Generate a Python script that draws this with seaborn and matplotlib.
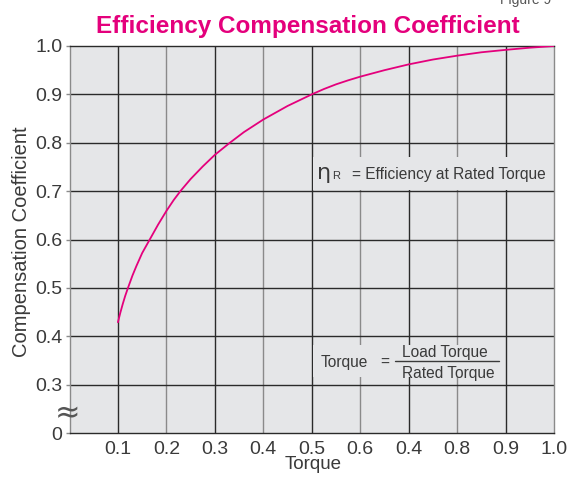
import matplotlib
matplotlib.use("Agg")
import matplotlib.pyplot as plt
import seaborn as sns
import pandas as pd
from matplotlib import font_manager
from matplotlib.patches import Rectangle
from matplotlib.lines import Line2D

# ---- data ----
torque = [0.100, 0.105, 0.110, 0.115, 0.1207, 0.130, 0.138, 0.150, 0.1662, 0.183,
          0.200, 0.215, 0.2297, 0.250, 0.275, 0.300, 0.331, 0.360, 0.400, 0.425,
          0.450, 0.475, 0.500, 0.525, 0.550, 0.575, 0.600, 0.650, 0.700, 0.750,
          0.800, 0.850, 0.900, 0.950, 1.000]
coef = [0.429, 0.449, 0.467, 0.4835, 0.500, 0.5256, 0.545, 0.572, 0.601, 0.631,
        0.659, 0.6815, 0.701, 0.725, 0.751, 0.775, 0.800, 0.822, 0.848, 0.862,
        0.876, 0.888, 0.900, 0.911, 0.9207, 0.929, 0.9366, 0.950, 0.962, 0.972,
        0.980, 0.987, 0.992, 0.9965, 1.000]
x_ticks = [0.1, 0.2, 0.3, 0.4, 0.5, 0.6, 0.7, 0.8, 0.9, 1.0]
x_tick_labels = ["0.1", "0.2", "0.3", "0.4", "0.5", "0.6", "0.4", "0.8", "0.9", "1.0"]
y_ticks = [0.2, 0.3, 0.4, 0.5, 0.6, 0.7, 0.8, 0.9, 1.0]
y_tick_labels = ["0", "0.3", "0.4", "0.5", "0.6", "0.7", "0.8", "0.9", "1.0"]

sns.set_style("white")
names = {f.name for f in font_manager.fontManager.ttflist}
base = "Liberation Sans" if "Liberation Sans" in names else "DejaVu Sans"
narrow = "Liberation Sans Narrow" if "Liberation Sans Narrow" in names else base
narrow_scale = 1.0 if narrow != base else 0.83
plt.rcParams["font.family"] = [base, "DejaVu Sans"]

MAGENTA = "#e4007c"
BG = "#e5e6e8"
DARK = "#2a2a2a"
GRAY = "#8a8a8a"
TXT = "#3a3a3a"

fig = plt.figure(figsize=(5.71, 4.79), dpi=100)
W, H = 571, 479
L, R, T, B = 69.5, 554, 46, 433
ax = fig.add_axes([L / W, 1 - B / H, (R - L) / W, (B - T) / H])
ax.set_facecolor(BG)

df = pd.DataFrame({"Torque": torque, "Coefficient": coef})
sns.lineplot(data=df, x="Torque", y="Coefficient", ax=ax, color=MAGENTA,
             linewidth=1.3, zorder=5)

ax.set_xlim(0, 1.0)
ax.set_ylim(0.2, 1.0)

# grid lines
for i, xv in enumerate(x_ticks[:-1]):
    ax.axvline(xv, color=DARK if i % 2 == 0 else GRAY, lw=1.0, zorder=1)
for yv in y_ticks[1:-1]:
    ax.axhline(yv, color=DARK, lw=1.0, zorder=1)

for s in ["left", "right"]:
    ax.spines[s].set_color(GRAY)
for s in ["top", "bottom"]:
    ax.spines[s].set_color(DARK)
for s in ax.spines.values():
    s.set_linewidth(1.0)

ax.set_xticks(x_ticks)
ax.set_xticklabels(x_tick_labels)
ax.set_yticks(y_ticks)
ax.set_yticklabels(y_tick_labels)
ax.tick_params(axis="x", length=0, pad=5.5, labelsize=14, labelcolor=TXT)
ax.tick_params(axis="y", length=3, width=1, color=GRAY, pad=2, labelsize=14,
               labelcolor=TXT, left=True)
ax.set_xlabel("")
ax.set_ylabel("")

# axis break mark
ax.text(-0.004, 0.241, "\u2248", transform=ax.get_yaxis_transform(), ha="center",
        va="center", fontsize=22, color="#555555", family="DejaVu Sans", zorder=6,
        clip_on=False)

# axis labels
fig.text(312.7 / W, 1 - 469 / H, "Torque", ha="center", va="baseline",
         fontsize=13.5, color=TXT)
fig.text(22 / W, 1 - 242 / H, "Compensation Coefficient", ha="center", va="center",
         rotation=90, fontsize=14.5, color=TXT)

# title and figure number
fig.text(307.5 / W, 1 - 33 / H, "Efficiency Compensation Coefficient", ha="center",
         va="baseline", fontsize=17.5, fontweight="bold", color=MAGENTA)
fig.text(551 / W, 1 - 4 / H, "Figure 9", ha="right", va="baseline", fontsize=10,
         color="#555555")

def fx(px):
    return (px - L) / (R - L)

def fy(py):
    return (B - py) / (B - T)

# annotation 1
ax.add_patch(Rectangle((fx(313), fy(190)), fx(552) - fx(313), fy(157) - fy(190),
                       transform=ax.transAxes, facecolor=BG, edgecolor="none", zorder=3))
ax.text(fx(317), fy(179.5), "\u03b7", transform=ax.transAxes, ha="left", va="baseline",
        fontsize=16, color=TXT, family="DejaVu Sans", zorder=7)
ax.text(fx(332.5), fy(179.5), "R", transform=ax.transAxes, ha="left", va="baseline",
        fontsize=8, color=TXT, family=narrow, zorder=7)
ax.text(fx(545.5), fy(179.5), "= Efficiency at Rated Torque", transform=ax.transAxes,
        ha="right", va="baseline", fontsize=13.5 * narrow_scale, color=TXT,
        family=narrow, zorder=7)

# annotation 2
ax.add_patch(Rectangle((fx(313), fy(377)), fx(503) - fx(313), fy(345) - fy(377),
                       transform=ax.transAxes, facecolor=BG, edgecolor="none", zorder=3))
ax.text(fx(320.7), fy(366.7), "Torque", transform=ax.transAxes, ha="left",
        va="baseline", fontsize=13.5 * narrow_scale, color=TXT, family=narrow, zorder=7)
ax.text(fx(384.5), fy(362), "=", transform=ax.transAxes, ha="center", va="center",
        fontsize=13.5 * narrow_scale, color=TXT, family=narrow, zorder=7)
ax.text(fx(444.5), fy(356.7), "Load Torque", transform=ax.transAxes, ha="center",
        va="baseline", fontsize=13.5 * narrow_scale, color=TXT, family=narrow, zorder=7)
ax.add_line(Line2D([fx(395), fx(499)], [fy(361), fy(361)], transform=ax.transAxes,
                   color=TXT, lw=1.0, zorder=7))
ax.text(fx(448), fy(377.7), "Rated Torque", transform=ax.transAxes, ha="center",
        va="baseline", fontsize=13.5 * narrow_scale, color=TXT, family=narrow, zorder=7)

fig.savefig("out.png", dpi=100)
